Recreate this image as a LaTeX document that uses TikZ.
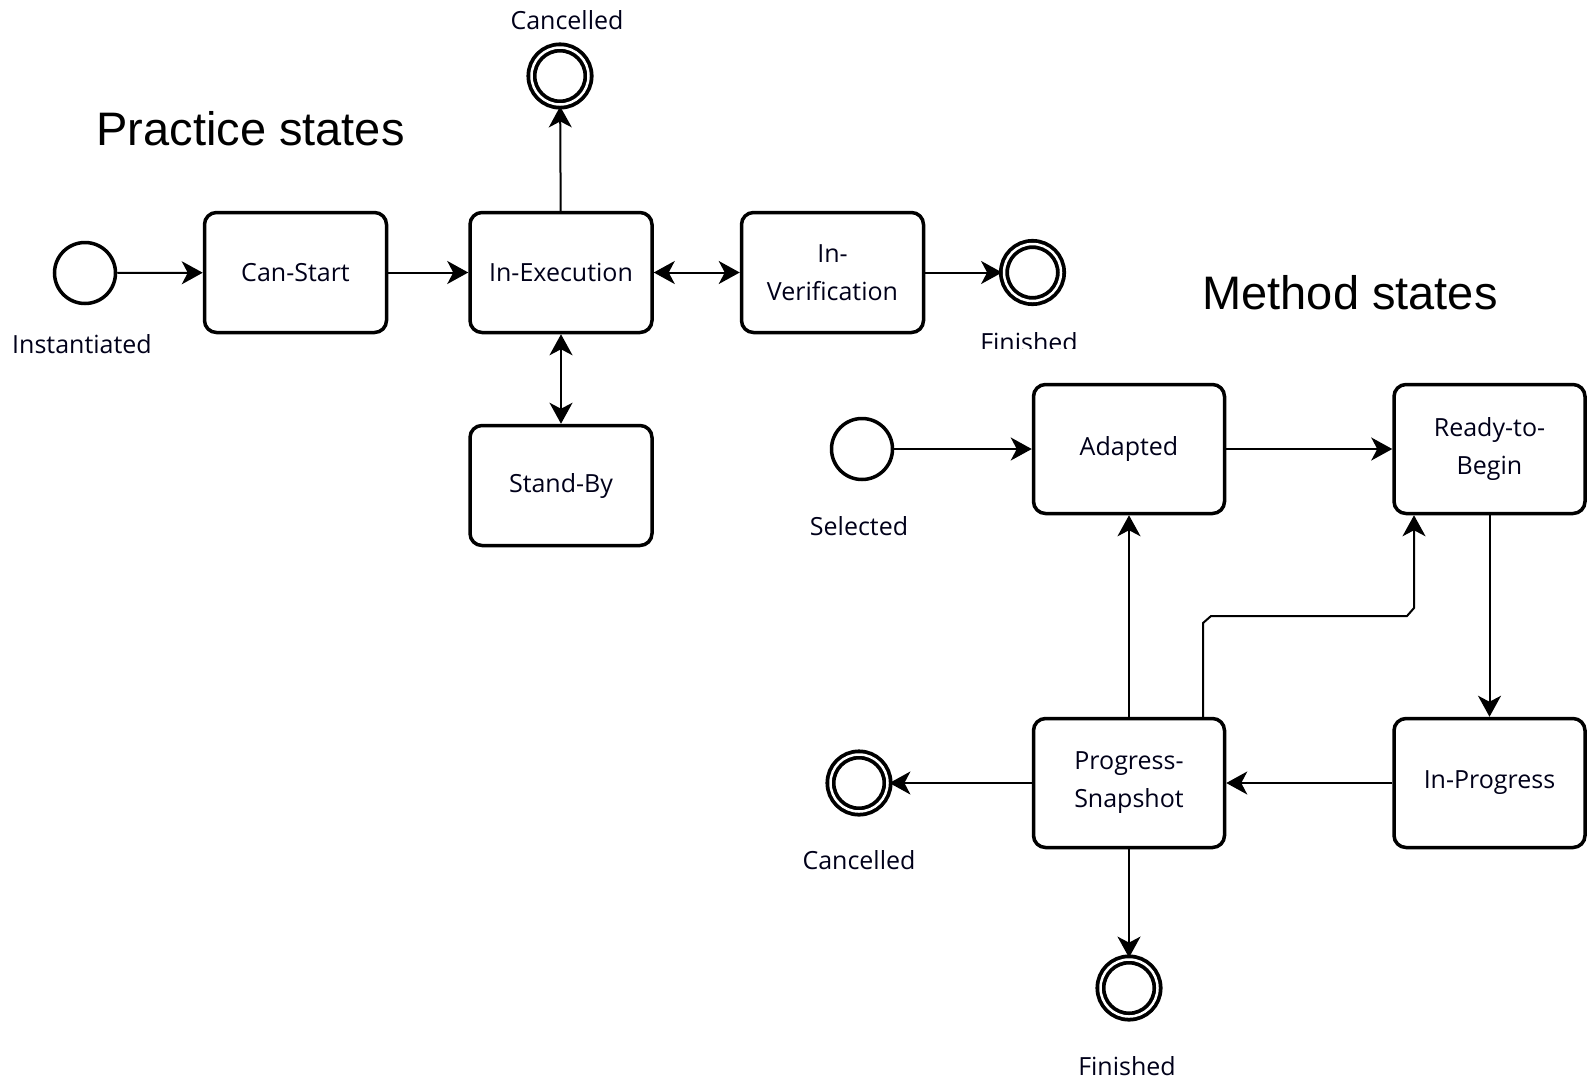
\documentclass[tikz,border=0pt]{standalone}
\usepackage{fontspec}
\setmainfont{Open Sans}
\newfontfamily\headfont{Liberation Sans}
\usetikzlibrary{arrows.meta}
\begin{document}
\begin{tikzpicture}[x=1pt,y=-1pt,
  lbl/.style={font=\fontsize{25}{38}\selectfont, text=black!90!blue, inner sep=0pt},
  statebox/.style={draw, line width=3.5pt, rounded corners=12pt, align=center,
    inner sep=0pt, lbl},
  pbox/.style={statebox, minimum width=182pt, minimum height=120pt},
  mbox/.style={statebox, minimum width=191pt, minimum height=129pt},
  startev/.style={draw, circle, line width=3.5pt, minimum size=61pt, inner sep=0pt},
  endev/.style={draw, circle, line width=3.8pt, double, double distance=2.5pt,
    minimum size=57pt, inner sep=0pt},
  head/.style={font=\headfont\fontsize{47}{56}\selectfont, inner sep=0pt, anchor=base},
  evlabel/.style={lbl, anchor=base},
  tip/.style={Stealth[length=21pt,width=23pt,inset=6pt]},
  flow/.style={line width=2pt, -{Stealth[length=21pt,width=23pt,inset=6pt]}},
  biflow/.style={line width=2pt, {Stealth[length=21pt,width=23pt,inset=6pt]}-{Stealth[length=21pt,width=23pt,inset=6pt]}}
]
\useasboundingbox (0,0) rectangle (1589,1079);

% ---------- Practice states ----------
\node[head] (phead) at (250.5,145) {Practice states};

\node[startev] (inst) at (85,273) {};
\node[pbox] (canstart) at (295.5,272.5) {Can-Start};
\node[pbox] (inexec) at (561,272.5) {In-Execution};
\node[pbox] (inverif) at (832.5,272.5) {In-\\Verification};
\node[pbox] (standby) at (561,485.5) {Stand-By};
\node[endev] (pcanc) at (560,76) {};
\node[endev] (pfin) at (1032.5,272.5) {};

\node[evlabel] (instlbl) at (82,353) {Instantiated};
\node[evlabel] (pcanclbl) at (567,29) {Cancelled};
\begin{scope}
  \clip (950,300) rectangle (1110,348);
  \node[evlabel] (pfinlbl) at (1029,351) {Finished};
\end{scope}

\draw[flow] (inst) -- (canstart);
\draw[flow] (canstart) -- (inexec);
\draw[biflow] (inexec) -- (inverif);
\draw[biflow] (inexec) -- (standby);
\draw[flow] (inexec) -- (pcanc);
\draw[flow] (inverif) -- (pfin);

% ---------- Method states ----------
\node[head] (mhead) at (1350,309) {Method states};

\node[startev] (sel) at (862,449) {};
\node[mbox] (adapted) at (1129,449) {Adapted};
\node[mbox] (ready) at (1489.5,449) {Ready-to-\\Begin};
\node[mbox] (snap) at (1129,783) {Progress-\\Snapshot};
\node[mbox] (inprog) at (1489.5,783) {In-Progress};
\node[endev] (mcanc) at (859,783) {};
\node[endev] (mfin) at (1129,988) {};

\node[evlabel] (sellbl) at (859,535) {Selected};
\node[evlabel] (mcanclbl) at (859,869) {Cancelled};
\node[evlabel] (mfinlbl) at (1127,1075) {Finished};

% route of the snapshot -> ready connector
\coordinate (b1) at (1203,623);
\coordinate (b2) at (1211,616);
\coordinate (b3) at (1407,616);
\coordinate (b4) at (1414,608);

\draw[flow] (sel) -- (adapted);
\draw[flow] (adapted) -- (ready);
\draw[flow] (ready) -- (inprog);
\draw[flow] (inprog) -- (snap);
\draw[flow] (snap) -- (adapted);
\draw[flow] (snap) -- (mcanc);
\draw[flow] (snap) -- (mfin);
\draw[flow] (snap.north -| b1) -- (b1) -- (b2) -- (b3) -- (b4) -- (b4 |- ready.south);
\end{tikzpicture}
\end{document}
